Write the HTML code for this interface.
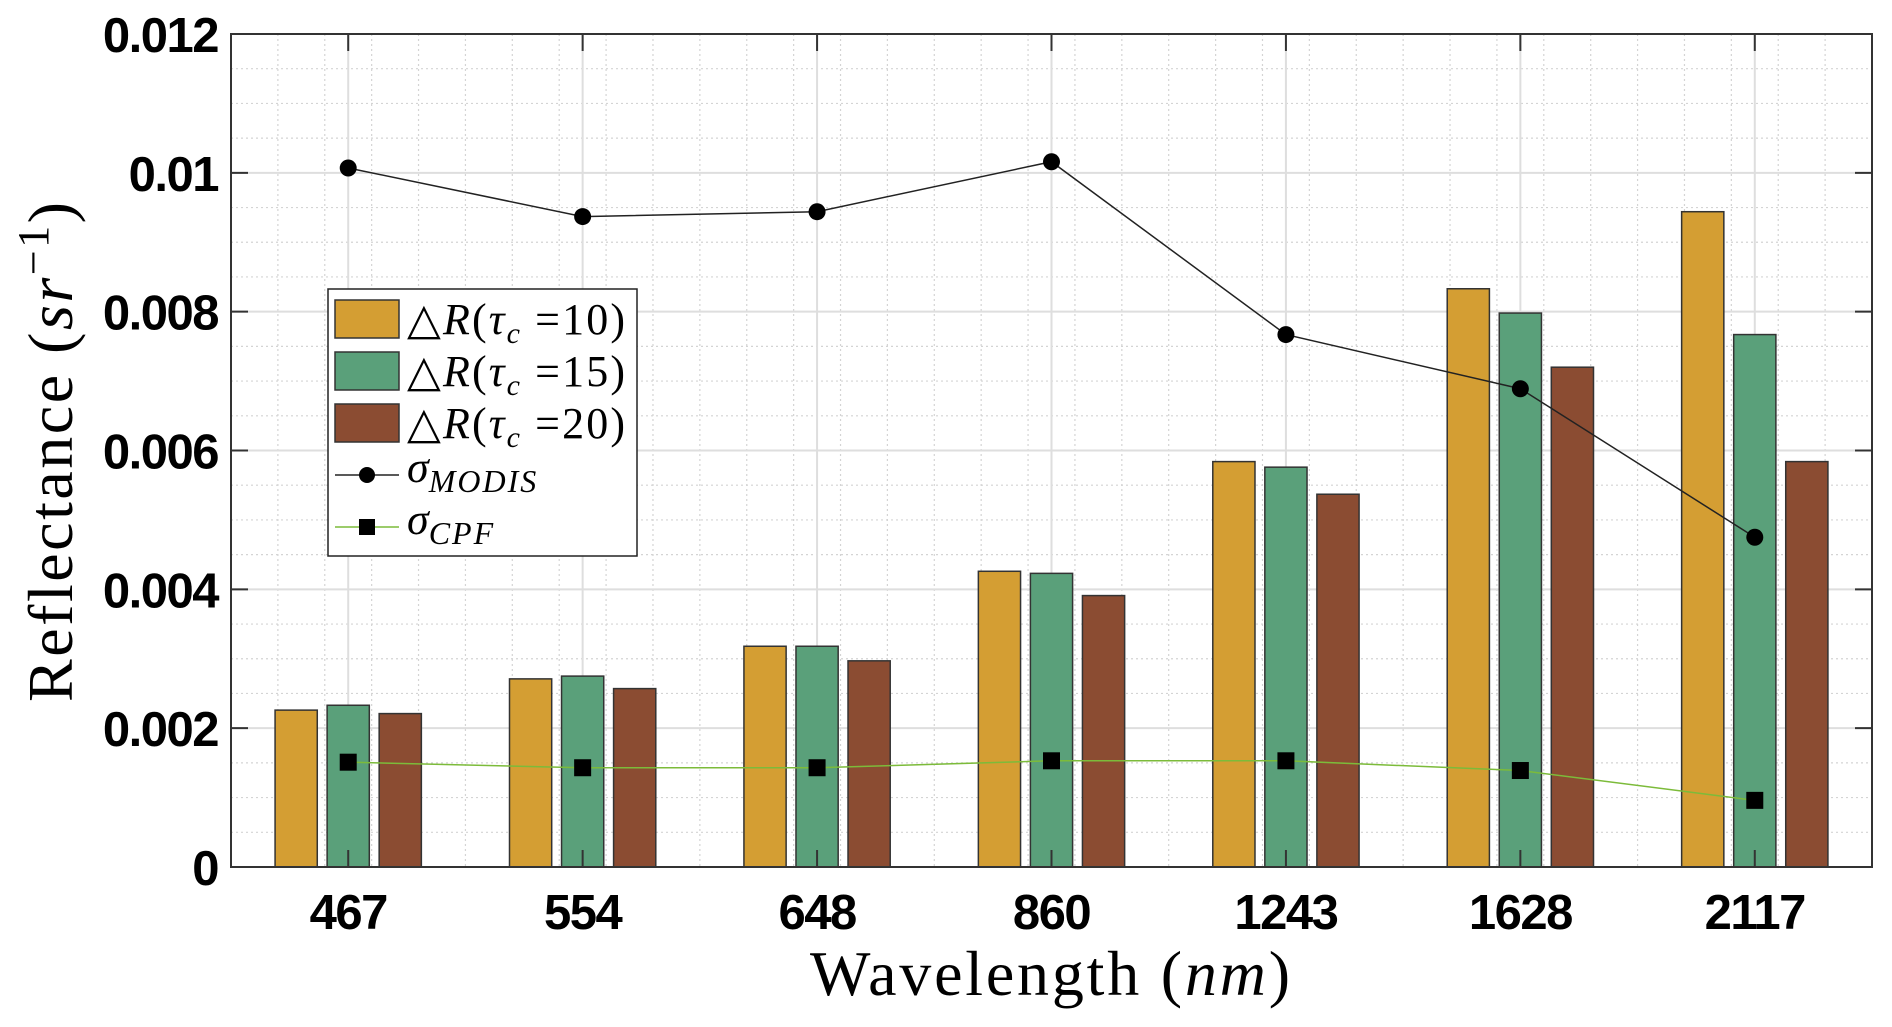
<!DOCTYPE html>
<html><head><meta charset="utf-8"><style>
html,body{margin:0;padding:0;background:#fff;}
svg{display:block;}
</style></head><body>
<svg id="chart" width="1892" height="1027" viewBox="0 0 1892 1027" xmlns="http://www.w3.org/2000/svg">
<rect x="0" y="0" width="1892" height="1027" fill="#fff"/>
<g id="grid"></g>
<g id="bars"></g>
<g id="lines"></g>
<g id="axes"></g>
<text transform="translate(72,452) rotate(-90)" text-anchor="middle" font-family="'Liberation Serif',serif" font-size="64" fill="#000" textLength="500">Reflectance (<tspan font-style="italic">sr</tspan><tspan dy="-24" font-size="44">−1</tspan><tspan dy="24">)</tspan></text>
<text x="1050" y="995" text-anchor="middle" font-family="'Liberation Serif',serif" font-size="64" fill="#000" textLength="480">Wavelength (<tspan font-style="italic">nm</tspan>)</text>
<g>
<rect x="328" y="289" width="309" height="267" fill="#fff" stroke="#222" stroke-width="1.5"/>
<rect x="335" y="300" width="64" height="38" fill="#d49e33" stroke="#333" stroke-width="1.5"/>
<rect x="335" y="352" width="64" height="38" fill="#5aa07a" stroke="#333" stroke-width="1.5"/>
<rect x="335" y="404" width="64" height="38" fill="#8b4c32" stroke="#333" stroke-width="1.5"/>
<g font-family="'Liberation Serif',serif" font-size="44" fill="#000">
<text x="407" y="334" textLength="218">△<tspan font-style="italic">R</tspan>(<tspan font-style="italic">τ</tspan><tspan font-style="italic" font-size="30" dy="9">c</tspan><tspan dy="-9"> =10)</tspan></text>
<text x="407" y="386" textLength="218">△<tspan font-style="italic">R</tspan>(<tspan font-style="italic">τ</tspan><tspan font-style="italic" font-size="30" dy="9">c</tspan><tspan dy="-9"> =15)</tspan></text>
<text x="407" y="438" textLength="218">△<tspan font-style="italic">R</tspan>(<tspan font-style="italic">τ</tspan><tspan font-style="italic" font-size="30" dy="9">c</tspan><tspan dy="-9"> =20)</tspan></text>
<text x="407" y="482" font-style="italic">σ<tspan font-size="32" dy="10" letter-spacing="2">MODIS</tspan></text>
<text x="407" y="534" font-style="italic">σ<tspan font-size="32" dy="10" letter-spacing="2">CPF</tspan></text>
</g>
<line x1="335" y1="475" x2="399" y2="475" stroke="#222" stroke-width="1.5"/>
<circle cx="367" cy="475" r="8" fill="#000"/>
<line x1="335" y1="527" x2="399" y2="527" stroke="#7cbb3a" stroke-width="1.5"/>
<rect x="359" y="519" width="16" height="16" fill="#000"/>
</g>
</svg>
<script>
const categories = ["467","554","648","860","1243","1628","2117"];
const tau10 = [0.00226,0.00271,0.00318,0.00426,0.00584,0.00833,0.00944];
const tau15 = [0.00233,0.00275,0.00318,0.00423,0.00576,0.00798,0.00767];
const tau20 = [0.00221,0.00257,0.00297,0.00391,0.00537,0.00720,0.00584];
const sigmaModis = [0.01007,0.00937,0.00944,0.01016,0.00767,0.00689,0.00475];
const sigmaCpf = [0.00151,0.00143,0.00143,0.00153,0.00153,0.00139,0.00096];
const yTicks = [0,0.002,0.004,0.006,0.008,0.01,0.012];
const yTickLabels = ["0","0.002","0.004","0.006","0.008","0.01","0.012"];

const NS = "http://www.w3.org/2000/svg";
const L = 231, R = 1872, T = 34, B = 867;
const xMin = 0.5, xMax = 7.5, yMax = 0.012;
function xs(v){ return L + (v - xMin) / (xMax - xMin) * (R - L); }
function ys(v){ return B - v / yMax * (B - T); }
function mk(tag, attrs, parent){
  const e = document.createElementNS(NS, tag);
  for (const k in attrs) e.setAttribute(k, attrs[k]);
  parent.appendChild(e);
  return e;
}
const grid = document.getElementById('grid');
const bars = document.getElementById('bars');
const lines = document.getElementById('lines');
const axes = document.getElementById('axes');

for (let i = 1; i < 35; i++) {
  const v = xMin + i * 0.2;
  if (Math.abs(v - Math.round(v)) < 1e-6) continue;
  const g = mk('line', {x1: xs(v), x2: xs(v), y1: T, y2: B, stroke: '#d4d4d4', 'stroke-width': 1.2, 'stroke-dasharray': '2,3'}, grid);
  
  
}
for (let i = 1; i < 24; i++) {
  if (i % 4 === 0) continue;
  const v = i * 0.0005;
  const g = mk('line', {x1: L, x2: R, y1: ys(v), y2: ys(v), stroke: '#d4d4d4', 'stroke-width': 1.2, 'stroke-dasharray': '2,3'}, grid);
  
  
}
yTicks.forEach(v => {
  const g = mk('line', {x1: L, x2: R, y1: ys(v), y2: ys(v), stroke: '#dedede', 'stroke-width': 2}, grid);
  
  
});
categories.forEach((c, i) => {
  const g = mk('line', {x1: xs(i + 1), x2: xs(i + 1), y1: T, y2: B, stroke: '#dedede', 'stroke-width': 2}, grid);
  
  
});

const series = [[tau10, '#d49e33', 'tau10'], [tau15, '#5aa07a', 'tau15'], [tau20, '#8b4c32', 'tau20']];
const bw = 0.18, off = 0.222;
series.forEach((s, si) => {
  s[0].forEach((v, i) => {
    const cx = i + 1 + (si - 1) * off;
    const b = mk('rect', {x: xs(cx - bw / 2), y: ys(v), width: xs(cx + bw / 2) - xs(cx - bw / 2), height: ys(0) - ys(v), fill: s[1], stroke: '#333', 'stroke-width': 1.5}, bars);
    
    
  });
});

function drawLine(vals, color, name, marker) {
  const pts = vals.map((v, i) => xs(i + 1) + ',' + ys(v)).join(' ');
  const pl = mk('polyline', {points: pts, fill: 'none', stroke: color, 'stroke-width': 1.5}, lines);
  
  
  vals.forEach((v, i) => {
    let m;
    if (marker === 'circle') m = mk('circle', {cx: xs(i + 1), cy: ys(v), r: 8.5, fill: '#000'}, lines);
    else m = mk('rect', {x: xs(i + 1) - 8.5, y: ys(v) - 8.5, width: 17, height: 17, fill: '#000'}, lines);
    
    
  });
}
drawLine(sigmaCpf, '#7cbb3a', 'sigma-cpf', 'square');
drawLine(sigmaModis, '#222', 'sigma-modis', 'circle');

const fr = mk('rect', {x: L, y: T, width: R - L, height: B - T, fill: 'none', stroke: '#333', 'stroke-width': 2}, axes);


yTicks.forEach((v, i) => {
  mk('line', {x1: L, x2: L + 17, y1: ys(v), y2: ys(v), stroke: '#333', 'stroke-width': 2}, axes);
  mk('line', {x1: R, x2: R - 17, y1: ys(v), y2: ys(v), stroke: '#333', 'stroke-width': 2}, axes);
  const t = mk('text', {x: 218, y: ys(v) + 18, 'text-anchor': 'end', 'font-family': "'Liberation Sans',sans-serif", 'font-weight': 'bold', 'font-size': 49, fill: '#000', 'letter-spacing': -1.5}, axes);
  t.textContent = yTickLabels[i];
  
  
});
categories.forEach((c, i) => {
  mk('line', {x1: xs(i + 1), x2: xs(i + 1), y1: T, y2: T + 17, stroke: '#333', 'stroke-width': 2}, axes);
  mk('line', {x1: xs(i + 1), x2: xs(i + 1), y1: B, y2: B - 17, stroke: '#333', 'stroke-width': 2}, axes);
  const t = mk('text', {x: xs(i + 1), y: 929, 'text-anchor': 'middle', 'font-family': "'Liberation Sans',sans-serif", 'font-weight': 'bold', 'font-size': 49, fill: '#000', 'letter-spacing': -1.5}, axes);
  t.textContent = c;
  
  
});
</script>
</body></html>
